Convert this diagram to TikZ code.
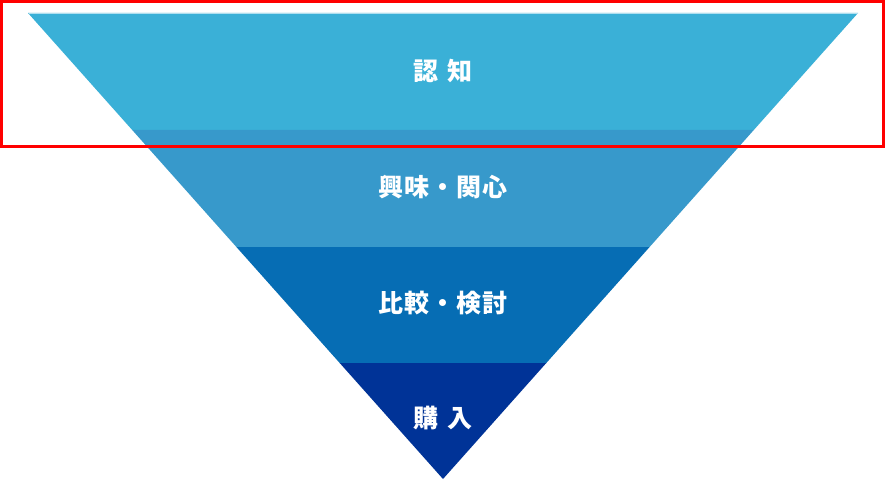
\documentclass[tikz,border=0pt]{standalone}
\usepackage{fontspec}
\newfontfamily\cjk{Noto Sans CJK JP}
\definecolor{bandA}{HTML}{3AB0D7}
\definecolor{bandB}{HTML}{3799CB}
\definecolor{bandC}{HTML}{066DB4}
\definecolor{bandD}{HTML}{003397}
\definecolor{frameRed}{HTML}{FF0000}
\begin{document}
\begin{tikzpicture}[x=1pt,y=-1pt,
  label/.style={text=white,font=\cjk\bfseries\fontsize{25}{27}\selectfont,inner sep=0pt,anchor=center}]
\useasboundingbox (0,0) rectangle (886,481);
\fill[white] (0,0) rectangle (886,481);
% bands
\fill[bandA] (28,13) -- (858,13) -- (753.8,130) -- (132.2,130) -- cycle;
\fill[bandB] (132.2,130) -- (753.8,130) -- (649.6,247) -- (236.4,247) -- cycle;
\fill[bandC] (236.4,247) -- (649.6,247) -- (546.3,363) -- (339.7,363) -- cycle;
\fill[bandD] (339.7,363) -- (546.3,363) -- (443,479) -- cycle;
\draw[white!60!bandA,line width=0.8pt] (28.5,13.4) -- (857.5,13.4);
% labels
\node[label] (ninchi) at (443,71) {認\hspace{9pt}知};
\node[label] (kyomi) at (443,187) {興\kern1pt 味\kern1pt ・\kern1pt 関\kern1pt 心};
\node[label] (hikaku) at (443,303) {比\kern1pt 較\kern1pt ・\kern1pt 検\kern1pt 討};
\node[label] (konyu) at (443,418) {購\hspace{9pt}入};
% red frame
\draw[frameRed,line width=3pt] (1.5,1.5) rectangle (883.5,146.5);
\end{tikzpicture}
\end{document}
